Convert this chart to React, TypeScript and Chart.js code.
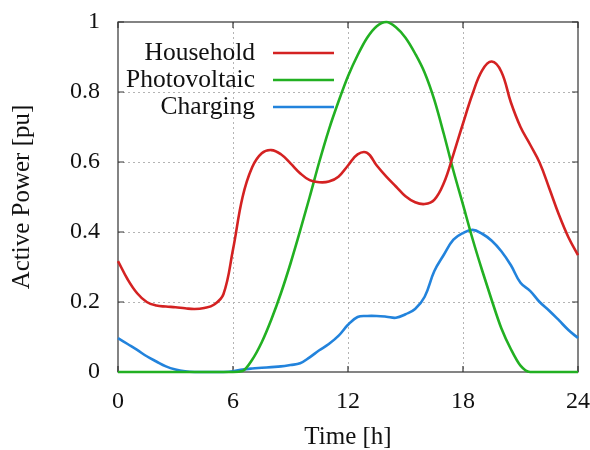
import React, { useEffect, useRef } from "react";
import { Chart, registerables } from "chart.js";

Chart.register(...registerables);

const HOURS = [
  0, 0.5, 1, 1.5, 2, 2.5, 3, 3.5, 4, 4.5, 5, 5.5, 6, 6.5, 7, 7.5, 8, 8.5, 9, 9.5,
  10, 10.5, 11, 11.5, 12, 12.5, 13, 13.5, 14, 14.5, 15, 15.5, 16, 16.5, 17, 17.5,
  18, 18.5, 19, 19.5, 20, 20.5, 21, 21.5, 22, 22.5, 23, 23.5, 24,
];

const HOUSEHOLD = [
  0.317, 0.265, 0.225, 0.2, 0.19, 0.187, 0.185, 0.182, 0.18, 0.183, 0.192, 0.222,
  0.35, 0.5, 0.585, 0.625, 0.634, 0.622, 0.596, 0.568, 0.548, 0.542, 0.544,
  0.558, 0.59, 0.622, 0.626, 0.59, 0.558, 0.53, 0.502, 0.485, 0.48, 0.492, 0.54,
  0.622, 0.71, 0.795, 0.862, 0.887, 0.858, 0.77, 0.7, 0.65, 0.598, 0.525, 0.45,
  0.385, 0.334,
];

const PHOTOVOLTAIC = [
  0, 0, 0, 0, 0, 0, 0, 0, 0, 0, 0, 0, 0, 0.003, 0.035, 0.085, 0.15, 0.225, 0.31,
  0.403, 0.5, 0.6, 0.692, 0.772, 0.845, 0.905, 0.955, 0.988, 1.0, 0.985, 0.955,
  0.91, 0.855, 0.778, 0.68, 0.575, 0.478, 0.38, 0.29, 0.205, 0.125, 0.065, 0.018,
  0, 0, 0, 0, 0, 0,
];

const CHARGING = [
  0.097, 0.08, 0.063, 0.045, 0.03, 0.016, 0.007, 0.002, 0, 0, 0, 0, 0.002, 0.007,
  0.01, 0.012, 0.014, 0.016, 0.02, 0.025, 0.042, 0.062, 0.08, 0.103, 0.135, 0.157,
  0.16, 0.16, 0.158, 0.155, 0.165, 0.18, 0.215, 0.288, 0.335, 0.378, 0.397, 0.406,
  0.395, 0.375, 0.345, 0.305, 0.255, 0.232, 0.2, 0.175, 0.148, 0.12, 0.097,
];

const SERIES_LABELS = ["Household", "Photovoltaic", "Charging"];
const SERIES_COLORS = ["#d42222", "#22b022", "#2283dc"];
const X_TICKS = [0, 6, 12, 18, 24];
const Y_TICKS = [0, 0.2, 0.4, 0.6, 0.8, 1];

const FONT = "'Liberation Serif', 'DejaVu Serif', serif";

const framePlugin = {
  id: "frame",
  beforeDatasetsDraw(chart: any) {
    const { ctx, chartArea: a, scales } = chart;
    const xs = scales.x;
    const ys = scales.y;
    ctx.save();
    ctx.strokeStyle = "#b4b4b4";
    ctx.lineWidth = 1;
    ctx.setLineDash([2, 3]);
    X_TICKS.forEach((t) => {
      if (t === X_TICKS[0] || t === X_TICKS[X_TICKS.length - 1]) return;
      const px = Math.round(xs.getPixelForValue(t)) + 0.5;
      ctx.beginPath();
      ctx.moveTo(px, a.top);
      ctx.lineTo(px, a.bottom);
      ctx.stroke();
    });
    Y_TICKS.forEach((t) => {
      if (t === Y_TICKS[0] || t === Y_TICKS[Y_TICKS.length - 1]) return;
      const py = Math.round(ys.getPixelForValue(t)) + 0.5;
      ctx.beginPath();
      ctx.moveTo(a.left, py);
      ctx.lineTo(a.right, py);
      ctx.stroke();
    });
    ctx.setLineDash([]);
    ctx.strokeStyle = "#333";
    ctx.lineWidth = 1.2;
    ctx.strokeRect(a.left, a.top, a.right - a.left, a.bottom - a.top);
    const tl = 6;
    ctx.beginPath();
    X_TICKS.forEach((t) => {
      const px = xs.getPixelForValue(t);
      ctx.moveTo(px, a.bottom);
      ctx.lineTo(px, a.bottom - tl);
      ctx.moveTo(px, a.top);
      ctx.lineTo(px, a.top + tl);
    });
    Y_TICKS.forEach((t) => {
      const py = ys.getPixelForValue(t);
      ctx.moveTo(a.left, py);
      ctx.lineTo(a.left + tl, py);
      ctx.moveTo(a.right, py);
      ctx.lineTo(a.right - tl, py);
    });
    ctx.stroke();
    ctx.restore();
  },
  afterDatasetsDraw(chart: any) {
    const { ctx, chartArea: a } = chart;
    ctx.save();
    ctx.font = `25.5px ${FONT}`;
    ctx.fillStyle = "#111";
    ctx.textAlign = "right";
    ctx.textBaseline = "middle";
    const textRight = a.left + 137;
    const lineStart = a.left + 155;
    const lineEnd = a.left + 216;
    chart.data.datasets.forEach((ds: any, i: number) => {
      const y = a.top + 31 + i * 27;
      ctx.fillText(ds.label, textRight, y);
      ctx.strokeStyle = ds.borderColor;
      ctx.lineWidth = 2.6;
      ctx.beginPath();
      ctx.moveTo(lineStart, y);
      ctx.lineTo(lineEnd, y);
      ctx.stroke();
    });
    ctx.restore();
  },
};

export default function App() {
  const canvasRef = useRef<HTMLCanvasElement>(null);

  useEffect(() => {
    document.body.style.margin = "0";
    const canvas = canvasRef.current;
    if (!canvas) return;
    const seriesValues = [HOUSEHOLD, PHOTOVOLTAIC, CHARGING];
    const chart = new Chart(canvas, {
      type: "line",
      data: {
        datasets: seriesValues.map((vals, i) => ({
          label: SERIES_LABELS[i],
          data: HOURS.map((h, j) => ({ x: h, y: vals[j] })),
          borderColor: SERIES_COLORS[i],
          backgroundColor: SERIES_COLORS[i],
          borderWidth: 2.6,
          pointRadius: 0,
          tension: 0.4,
          cubicInterpolationMode: (i === 1 ? "monotone" : "default") as any,
          clip: false as any,
          fill: false,
        })),
      },
      options: {
        animation: false,
        responsive: false,
        layout: { padding: { left: 0, right: 12, top: 22, bottom: 0 } },
        plugins: {
          legend: { display: false },
          tooltip: { enabled: false },
        },
        scales: {
          x: {
            type: "linear",
            min: 0,
            max: 24,
            afterBuildTicks: (scale: any) => {
              scale.ticks = X_TICKS.map((v) => ({ value: v }));
            },
            afterFit: (scale: any) => {
              scale.height = 78;
              scale.paddingLeft = 0;
              scale.paddingRight = 0;
            },
            grid: { display: false, drawTicks: false },
            border: { display: false },
            ticks: {
              color: "#111",
              font: { family: FONT, size: 24 },
              padding: 15,
              maxRotation: 0,
              autoSkip: false,
            },
            title: {
              display: true,
              text: "Time [h]",
              color: "#111",
              font: { family: FONT, size: 25, lineHeight: 1 },
              padding: { top: 0, bottom: 0 },
            },
          },
          y: {
            type: "linear",
            min: 0,
            max: 1,
            afterBuildTicks: (scale: any) => {
              scale.ticks = Y_TICKS.map((v) => ({ value: v }));
            },
            afterFit: (scale: any) => {
              scale.width = 118;
              scale.paddingTop = 0;
              scale.paddingBottom = 0;
            },
            grid: { display: false, drawTicks: false },
            border: { display: false },
            ticks: {
              color: "#111",
              font: { family: FONT, size: 24 },
              padding: 18,
              autoSkip: false,
              callback: (v: any) => String(Number(v)),
            },
            title: {
              display: true,
              text: "Active Power [pu]",
              color: "#111",
              font: { family: FONT, size: 25, lineHeight: 1 },
              padding: { top: 10, bottom: 0 },
            },
          },
        },
      },
      plugins: [framePlugin],
    });
    return () => chart.destroy();
  }, []);

  return (
    <div style={{ width: 590, height: 450, background: "#fff" }}>
      <canvas ref={canvasRef} width={590} height={450} />
    </div>
  );
}
